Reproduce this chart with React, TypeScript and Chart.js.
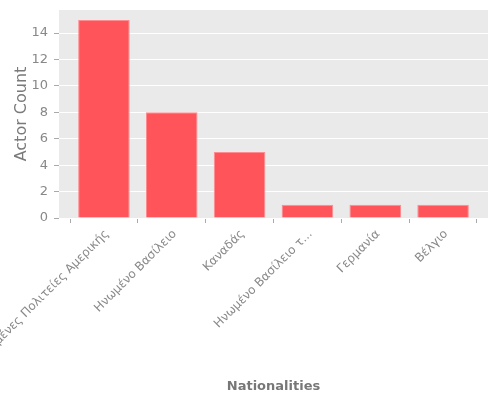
import { Chart, registerables } from 'chart.js';
import { useEffect, useRef } from 'react';

Chart.register(...registerables);

const nationalities = [
  'Ηνωμένες Πολιτείες Αμερικής',
  'Ηνωμένο Βασίλειο',
  'Καναδάς',
  'Ηνωμένο Βασίλειο τ...',
  'Γερμανία',
  'Βέλγιο',
];
const actorCounts = [15, 8, 5, 1, 1, 1];
const yTicks = [0, 2, 4, 6, 8, 10, 12, 14];

// grey panel behind the plot, ggplot style
const panelBg = {
  id: 'panelBg',
  beforeDraw(chart: Chart) {
    const { ctx, chartArea } = chart;
    ctx.save();
    ctx.fillStyle = '#EAEAEA';
    ctx.fillRect(chartArea.left, chartArea.top, chartArea.right - chartArea.left, chartArea.bottom - chartArea.top);
    ctx.restore();
  },
};

const App: React.FC = () => {
  const chartRef = useRef<HTMLCanvasElement>(null);
  const chartInstanceRef = useRef<Chart | null>(null);

  useEffect(() => {
    const ctx = chartRef.current?.getContext('2d');

    if (ctx && chartInstanceRef.current === null) {
      chartInstanceRef.current = new Chart(ctx, {
        type: 'bar',
        data: {
          datasets: [{
            label: 'Actor Count',
            data: actorCounts.map((v, i) => ({ x: i, y: v })),
            backgroundColor: '#FF5459',
            borderColor: '#FF8C90',
            borderWidth: 1,
            barPercentage: 0.76,
            categoryPercentage: 1,
          }],
        },
        options: {
          responsive: true,
          maintainAspectRatio: false,
          animation: false,
          layout: { padding: { top: 10, right: 12, bottom: 6, left: 8 } },
          plugins: {
            legend: { display: false },
            tooltip: { enabled: false },
          },
          scales: {
            x: {
              type: 'linear',
              min: -0.6625,
              max: 5.6625,
              offset: false,
              border: { display: false },
              grid: { color: '#FFFFFF', tickColor: '#AAAAAA', tickLength: 5, drawOnChartArea: false },
              ticks: {
                autoSkip: false,
                minRotation: 45,
                maxRotation: 45,
                color: '#888888',
                padding: 4,
                labelOffset: 3,
                font: { family: 'DejaVu Sans', size: 12 },
                callback: (v: any) => nationalities[v] ?? '',
              },
              afterBuildTicks: (scale: any) => {
                scale.ticks = nationalities.map((_, i) => ({ value: i }));
              },
              afterFit: (scale: any) => {
                scale.height = 176;
                scale.paddingLeft = 0;
                scale.paddingRight = 0;
              },
              title: {
                display: true,
                text: 'Nationalities',
                color: '#777777',
                font: { family: 'DejaVu Sans', size: 13, weight: 'bold' },
                padding: { top: 4, bottom: 0 },
              },
            },
            y: {
              min: 0,
              max: 15.75,
              border: { display: false },
              grid: { color: '#FFFFFF', tickColor: '#AAAAAA', tickLength: 5 },
              ticks: {
                color: '#888888',
                padding: 6,
                font: { family: 'DejaVu Sans', size: 13 },
              },
              afterBuildTicks: (scale: any) => {
                scale.ticks = yTicks.map((v) => ({ value: v }));
              },
              afterFit: (scale: any) => {
                scale.width = 51;
                scale.paddingTop = 0;
                scale.paddingBottom = 0;
              },
              title: {
                display: true,
                text: 'Actor Count',
                color: '#7A7A7A',
                font: { family: 'DejaVu Sans', size: 16 },
                padding: { top: 4, bottom: 4 },
              },
            },
          },
        },
        plugins: [panelBg],
      });
    }

    return () => {
      if (chartInstanceRef.current) {
        chartInstanceRef.current.destroy();
        chartInstanceRef.current = null;
      }
    };
  }, []);

  return (
    <div style={{ position: 'absolute', left: 0, top: 0, width: 500, height: 400 }}>
      <canvas ref={chartRef} />
    </div>
  );
};

export default App;
